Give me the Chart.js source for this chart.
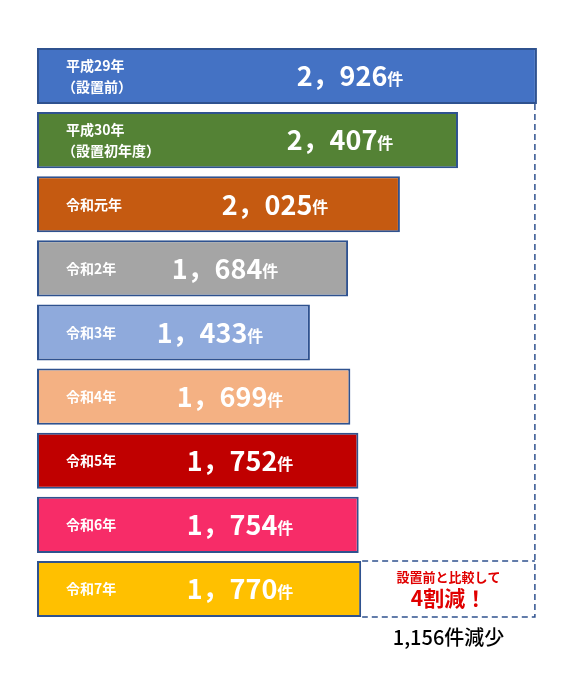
<!DOCTYPE html>
<html><head><meta charset="utf-8">
<script src="https://cdn.jsdelivr.net/npm/chart.js@4"></script>
<style>body{margin:0;background:#fff}</style></head>
<body><canvas id="c" width="584" height="679"></canvas>
<script>
const labels = [["平成29年","（設置前）"],["平成30年","（設置初年度）"],["令和元年"],["令和2年"],["令和3年"],["令和4年"],["令和5年"],["令和6年"],["令和7年"]];
const values = [2926,2407,2025,1684,1433,1699,1752,1754,1770];
const colors = ["#4472C4","#548235","#C55A11","#A5A5A5","#8FAADC","#F4B183","#C00000","#F72C68","#FFC000"];
const F = '"Noto Sans CJK JP", sans-serif';
const deco = {
  id:'deco',
  afterDatasetsDraw(chart){
    const ctx=chart.ctx, xs=chart.scales.x;
    const meta=chart.getDatasetMeta(0);
    ctx.save();
    meta.data.forEach((b,i)=>{
      const y=b.y;
      ctx.fillStyle='#fff';ctx.textBaseline='middle';ctx.textAlign='left';
      ctx.font='bold 14px '+F;
      const L=labels[i];
      if(L.length===2){ctx.fillText(L[0],66,y-10);ctx.fillText(L[1],62,y+11);}
      else ctx.fillText(L[0],66,y);
      const s=values[i].toLocaleString('en-US').replace(',', '，');
      ctx.font='bold 27px '+F;
      const w=ctx.measureText(s).width;
      ctx.font='bold 16px '+F;
      const w2=ctx.measureText('件').width;
      const cx=[350,340,275,225,210,230,240,240,240][i];
      let x0=cx-(w+w2)/2;
      ctx.font='bold 27px '+F;ctx.fillText(s,x0,y);
      ctx.font='bold 16px '+F;ctx.fillText('件',x0+w,y+3);
    });
    const b0=meta.data[0], b8=meta.data[8];
    const xr=xs.getPixelForValue(values[0])-2, xl=xs.getPixelForValue(values[8])+1;
    const h=b8.height/2;
    ctx.strokeStyle='#2F528F';ctx.lineWidth=1.5;ctx.setLineDash([6,4]);
    ctx.beginPath();ctx.moveTo(xr,b0.y+b0.height/2);ctx.lineTo(xr,b8.y+h);ctx.lineTo(xl,b8.y+h);ctx.stroke();
    ctx.beginPath();ctx.moveTo(xl,b8.y-h);ctx.lineTo(xr,b8.y-h);ctx.stroke();
    ctx.setLineDash([]);
    ctx.textAlign='center';ctx.fillStyle='#E00000';
    ctx.font='bold 13px '+F;ctx.fillText('設置前と比較して',(xl+xr)/2,b8.y-12);
    ctx.font='bold 21px '+F;ctx.fillText('4割減！',(xl+xr)/2,b8.y+9);
    ctx.fillStyle='#000';ctx.font='500 20px '+F;
    ctx.fillText('1,156件減少',(xl+xr)/2,b8.y+h+20);
    ctx.restore();
  }
};
new Chart(document.getElementById('c'),{
  type:'bar',
  data:{labels:labels.map(l=>l.join('')),datasets:[{data:values,base:-362,backgroundColor:colors,borderColor:'#2F528F',borderWidth:2,borderSkipped:false,barPercentage:0.875,categoryPercentage:1}]},
  options:{indexAxis:'y',responsive:false,animation:false,
    layout:{padding:{top:44,bottom:58,left:37,right:24}},
    plugins:{legend:{display:false},tooltip:{enabled:false}},
    scales:{x:{display:false,min:-362,max:3078},y:{display:false}}},
  plugins:[deco]
});
</script></body></html>
